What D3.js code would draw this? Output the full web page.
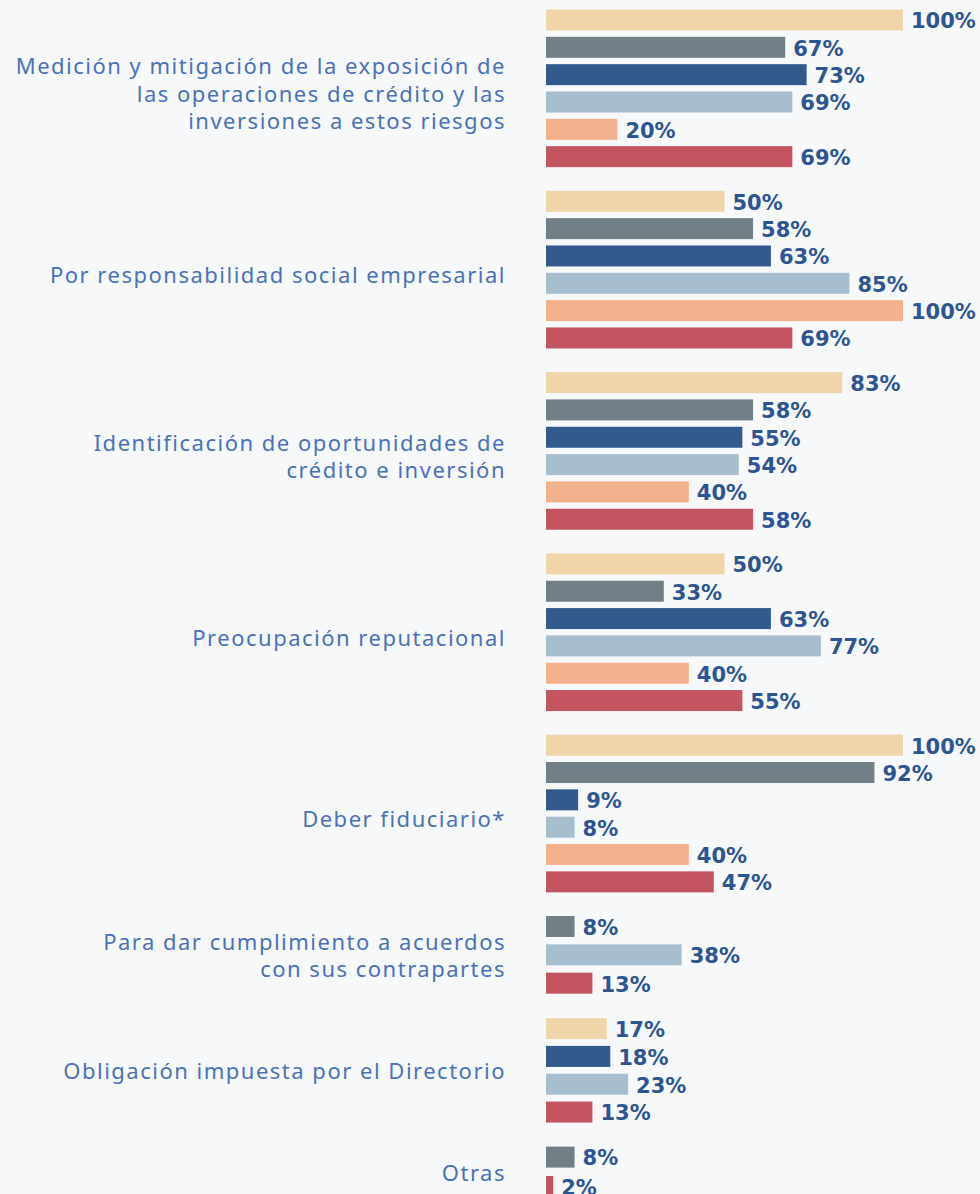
<!DOCTYPE html>
<html>
<head>
<meta charset="utf-8">
<script src="https://cdn.jsdelivr.net/npm/d3@7"></script>
<style>
  body { margin: 0; background: #f7f8fa; }
  svg { display: block; }
</style>
</head>
<body>
<div id="chart"></div>
<script>
// categories (top to bottom), each may be split into several lines
const categories = [
    ["Medición y mitigación de la exposición de", "las operaciones de crédito y las", "inversiones a estos riesgos"],
    ["Por responsabilidad social empresarial"],
    ["Identificación de oportunidades de", "crédito e inversión"],
    ["Preocupación reputacional"],
    ["Deber fiduciario*"],
    ["Para dar cumplimiento a acuerdos", "con sus contrapartes"],
    ["Obligación impuesta por el Directorio"],
    ["Otras"]
];

// one array per series, null = not present
const serieBeige     = [100, 50, 83, 50, 100, null, 17, null];
const serieGris      = [67, 58, 58, 33, 92, 8, null, 8];
const serieAzul      = [73, 63, 55, 63, 9, null, 18, null];
const serieCeleste   = [69, 85, 54, 77, 8, 38, 23, null];
const serieSalmon    = [20, 100, 40, 40, 40, null, null, null];
const serieRojo      = [69, 69, 58, 55, 47, 13, 13, 2];

const series = [
    { name: "Serie 1", values: serieBeige,   color: "#f0d5aa" },
    { name: "Serie 2", values: serieGris,    color: "#717f86" },
    { name: "Serie 3", values: serieAzul,    color: "#335a8c" },
    { name: "Serie 4", values: serieCeleste, color: "#a7bece" },
    { name: "Serie 5", values: serieSalmon,  color: "#f3b08d" },
    { name: "Serie 6", values: serieRojo,    color: "#c2555f" }
];

const width = 980, height = 1194;
const barH = 21, step = 26.4, groupGap = 28.3, topY = 9.5;

const svg = d3.select("#chart").append("svg")
    .attr("width", width)
    .attr("height", height);

const x = d3.scaleLinear().domain([0, 100]).range([546, 903]);

// build groups: only the bars that exist
let groups = [];
let yCursor = topY;
categories.forEach((lines, i) => {
    let bars = series
        .filter(s => s.values[i] != null)
        .map(s => ({ value: s.values[i], color: s.color, name: s.name }));
    let y = d3.scaleBand()
        .domain(d3.range(bars.length))
        .range([yCursor, yCursor + bars.length * step])
        .paddingInner((step - barH) / step)
        .paddingOuter(0)
        .align(0);
    groups.push({ lines: lines, bars: bars, y: y, start: yCursor });
    yCursor += (bars.length - 1) * step + barH + groupGap;
});

const g = svg.selectAll(".group")
    .data(groups)
    .enter().append("g")
    .attr("class", "group");

g.selectAll("rect")
    .data(d => d.bars.map((b, j) => ({ ...b, y: d.y(j) })))
    .enter().append("rect")
    .attr("x", x(0))
    .attr("y", d => d.y)
    .attr("width", d => x(d.value) - x(0))
    .attr("height", barH)
    .attr("fill", d => d.color);

g.selectAll(".val")
    .data(d => d.bars.map((b, j) => ({ ...b, y: d.y(j) })))
    .enter().append("text")
    .attr("class", "val")
    .attr("x", d => x(d.value) + 8)
    .attr("y", d => d.y + barH / 2 + 1)
    .attr("dy", "0.35em")
    .attr("font-family", "DejaVu Sans")
    .attr("font-weight", "bold")
    .attr("font-size", 21)
    .attr("fill", "#2d5591")
    .text(d => d.value + "%");

// category labels, roughly centred on the group
g.each(function(d) {
    let n = d.bars.length;
    let shift = n === 6 ? 8 : 3;
    let center = d.start + ((n - 1) * step + barH) / 2 + shift;
    let lh = 27.5;
    let t = d3.select(this).append("text")
        .attr("text-anchor", "end")
        .attr("font-family", "Noto Sans")
        .attr("font-size", 22)
        .attr("letter-spacing", 1.5)
        .attr("fill", "#4a72b8");
    d.lines.forEach((line, k) => {
        t.append("tspan")
            .attr("x", 506)
            .attr("y", center + (k - (d.lines.length - 1) / 2) * lh)
            .attr("dy", "0.35em")
            .text(line);
    });
});
</script>
</body>
</html>
